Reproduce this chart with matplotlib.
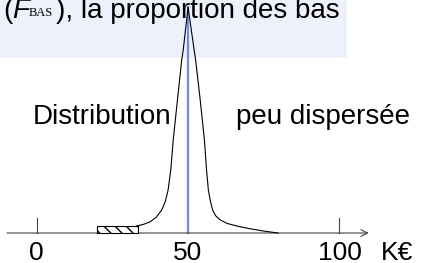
import matplotlib.pyplot as plt
from matplotlib.patches import Rectangle

plt.rcParams['font.family'] = ['Liberation Sans', 'DejaVu Sans']

# distribution curve (salary in K€, height in % of peak)
curve_x = [33.0, 35.2, 37.4, 39.5, 41.3, 42.5, 43.4, 44.3, 45.1, 46.5, 47.9, 48.4, 50.0,
           52.0, 52.5, 54.0, 55.4, 56.1, 56.7, 57.4, 58.1, 59.2, 60.6, 63.0, 66.1, 70.0, 74.8, 79.7]
curve_y = [3.1, 3.8, 4.9, 7.0, 10.2, 14.0, 19.0, 28.0, 41.2, 59.0, 76.5, 81.0, 100.0,
           81.0, 76.5, 59.0, 41.2, 28.0, 19.0, 14.0, 10.2, 7.5, 5.8, 4.2, 3.1, 2.0, 0.9, 0.0]

median_x = 50
low_band = (20, 33.3)       # hatched zone of the low salaries
low_band_h = 3.3
ticks = [0, 50, 100]
tick_labels = ['0', '50', '100']
unit_label = 'K€'

fig = plt.figure(figsize=(4.23, 2.63), dpi=100, facecolor='white')
ax = fig.add_axes([0, 0, 1, 1])
ax.set_xlim(-12.12, 127.6)
ax.set_ylim(-13.27, 103.1)
ax.axis('off')

# title box (cut at the top)
ax.add_patch(Rectangle((0, 1 - 58 / 263), 347 / 423, 58 / 263, transform=ax.transAxes,
                       fc='#eef1fb', ec='none', zorder=0))
by = 1 - 18 / 263
ax.text(3 / 423, by, '(', transform=ax.transAxes, fontsize=20, va='baseline')
ax.text(12 / 423, by, 'F', transform=ax.transAxes, fontsize=20, va='baseline', style='italic')
ax.text(29 / 423, 1 - 16 / 263, 'BAS', transform=ax.transAxes, fontsize=9,
        family='Liberation Serif', va='baseline')
ax.text(56 / 423, by, '), la proportion des bas', transform=ax.transAxes,
        fontsize=20, va='baseline')

# axis with arrow
ax.annotate('', xy=(109.7, 0), xytext=(-9.8, 0),
            arrowprops=dict(arrowstyle='->', color='#444444', lw=0.8,
                            shrinkA=0, shrinkB=0, mutation_scale=12))
for t, lab in zip(ticks, tick_labels):
    ax.plot([t, t], [0, 6.6], color='#444444', lw=0.8)
    ax.text(t, -11.9, lab, ha='center', va='baseline', fontsize=19)
ax.text(113.7, -11.9, unit_label, ha='left', va='baseline', fontsize=19)

# median line
ax.plot([median_x, median_x], [0, 100], color='#6c8eea', lw=1.6, zorder=2)

# curve
ax.plot(curve_x, curve_y, color='black', lw=0.8, zorder=3)

# hatched low-salary band
ax.add_patch(Rectangle((low_band[0], 0), low_band[1] - low_band[0], low_band_h,
                       fc='white', ec='black', lw=0.8, hatch='\\\\\\', zorder=3))

ax.text(21.6, 48.2, 'Distribution', ha='center', va='baseline', fontsize=20)
ax.text(94.7, 48.2, 'peu dispersée', ha='center', va='baseline', fontsize=20)

plt.savefig('out.png', dpi=100, facecolor='white')
